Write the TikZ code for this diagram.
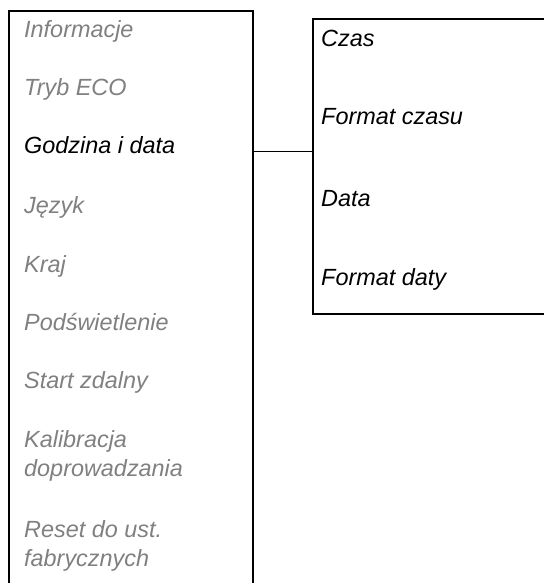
\documentclass[tikz,border=0pt]{standalone}
\usepackage{fontspec}
\setmainfont{Liberation Sans}
\begin{document}
\begin{tikzpicture}[x=1bp,y=-1bp,
  frame/.style={line width=2bp,black},
  link/.style={line width=1.5bp,black},
  item/.style={anchor=base west,inner sep=0pt,align=left,
    font=\itshape\fontsize{23.5}{29}\selectfont},
  dim/.style={item,text=black!50},
  act/.style={item,text=black}]
\useasboundingbox (0,0) rectangle (544,583);
% left menu frame (open at bottom)
\coordinate (lbl) at (9,583);
\coordinate (ltl) at (9,11);
\coordinate (ltr) at (253,11);
\coordinate (lbr) at (253,583);
\draw[frame] (lbl) -- (ltl) -- (ltr) -- (lbr);
% right submenu frame (open at right)
\coordinate (rtr) at (544,19);
\coordinate (rtl) at (313,19);
\coordinate (rbl) at (313,314);
\coordinate (rbr) at (544,314);
\draw[frame] (rtr) -- (rtl) -- (rbl) -- (rbr);
% connector
\coordinate (cl) at (253,151.5);
\coordinate (cr) at (313,151.5);
\draw[link] (cl) -- (cr);
% left items (multi-line nodes: base = last line)
\node[dim] (i1) at (24,37.5) {Informacje};
\node[dim] (i2) at (24,96) {Tryb ECO};
\node[act] (i3) at (24,154) {Godzina i data};
\node[dim] (i4) at (24,213) {Język};
\node[dim] (i5) at (24,272) {Kraj};
\node[dim] (i6) at (24,330) {Podświetlenie};
\node[dim] (i7) at (24,388) {Start zdalny};
\node[dim] (i8) at (24,476) {Kalibracja\\doprowadzania};
\node[dim] (i9) at (24,566) {Reset do ust.\\fabrycznych};
% right items
\node[act] (s1) at (321,46.5) {Czas};
\node[act] (s2) at (321,124.5) {Format czasu};
\node[act] (s3) at (321,206) {Data};
\node[act] (s4) at (321,285) {Format daty};
\end{tikzpicture}
\end{document}
